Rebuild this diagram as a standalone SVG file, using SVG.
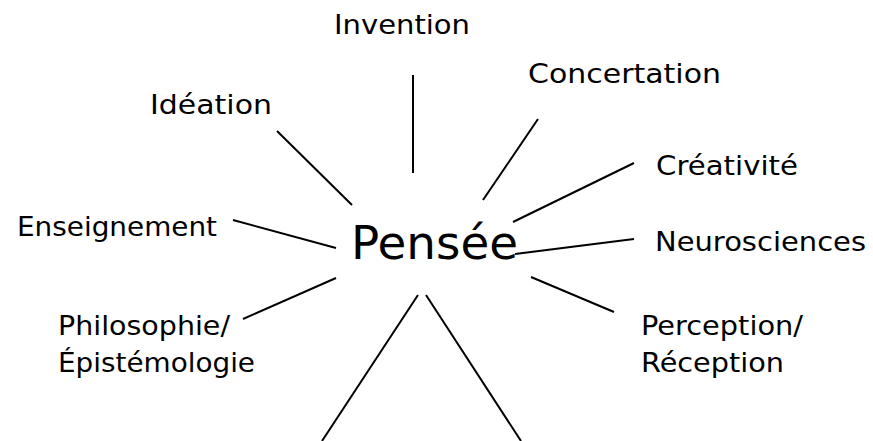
<svg xmlns="http://www.w3.org/2000/svg" width="873" height="441" viewBox="0 0 873 441">
<style>
text{font-family:"DejaVu Sans","Liberation Sans",sans-serif;font-size:27px;fill:#000}
.c{font-size:46px}
line{stroke:#000;stroke-width:2}
</style>
<rect width="873" height="441" fill="#fff"/>
<g id="connectors">
<line x1="413" y1="75" x2="413" y2="173"/>
<line x1="277" y1="131" x2="352" y2="205"/>
<line x1="538" y1="119" x2="483" y2="200"/>
<line x1="634" y1="163" x2="513" y2="222"/>
<line x1="634" y1="239" x2="515" y2="254"/>
<line x1="531" y1="277" x2="614" y2="312"/>
<line x1="336" y1="278" x2="243" y2="319"/>
<line x1="233" y1="220" x2="336" y2="248"/>
<line x1="418" y1="295" x2="322" y2="441"/>
<line x1="426" y1="295" x2="521" y2="441"/>
</g>
<g id="pensee"><text class="c" x="351" y="259" textLength="167" lengthAdjust="spacingAndGlyphs">Pensée</text></g>
<g id="invention"><text x="334" y="34" textLength="136" lengthAdjust="spacingAndGlyphs">Invention</text></g>
<g id="concertation"><text x="528" y="83" textLength="193" lengthAdjust="spacingAndGlyphs">Concertation</text></g>
<g id="ideation"><text x="150" y="114" textLength="122" lengthAdjust="spacingAndGlyphs">Idéation</text></g>
<g id="creativite"><text x="656" y="175" textLength="142" lengthAdjust="spacingAndGlyphs">Créativité</text></g>
<g id="enseignement"><text x="17" y="236" textLength="200" lengthAdjust="spacingAndGlyphs">Enseignement</text></g>
<g id="neurosciences"><text x="655" y="251" textLength="211" lengthAdjust="spacingAndGlyphs">Neurosciences</text></g>
<g id="philosophie"><text x="58" y="335" textLength="172" lengthAdjust="spacingAndGlyphs">Philosophie/</text><text x="58" y="372" textLength="197" lengthAdjust="spacingAndGlyphs">Épistémologie</text></g>
<g id="perception"><text x="641" y="335" textLength="162" lengthAdjust="spacingAndGlyphs">Perception/</text><text x="641" y="372" textLength="143" lengthAdjust="spacingAndGlyphs">Réception</text></g>
</svg>
